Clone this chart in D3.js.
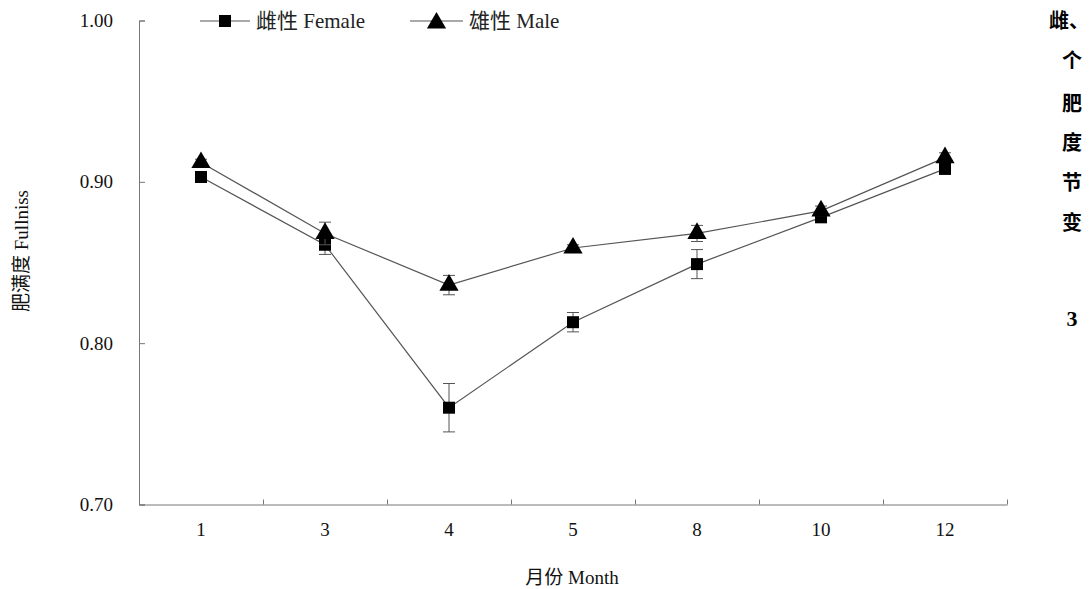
<!DOCTYPE html>
<html><head><meta charset="utf-8">
<script src="https://cdn.jsdelivr.net/npm/d3@7"></script>
<style>body{margin:0;background:#fff}svg{display:block}</style>
</head><body>
<svg id="c" width="1089" height="589"></svg>
<script>
const months = ["1","3","4","5","8","10","12"];
const female = [0.903, 0.861, 0.760, 0.813, 0.849, 0.878, 0.908];
const femaleErr = [0.003, 0.006, 0.015, 0.006, 0.009, 0.003, 0.003];
const male = [0.912, 0.868, 0.836, 0.859, 0.868, 0.882, 0.915];
const maleErr = [0.002, 0.007, 0.006, 0.002, 0.005, 0.003, 0.003];
const yTicks = [0.70, 0.80, 0.90, 1.00];
const seriesNames = ["雌性 Female", "雄性 Male"];
const sideText = ["雌、", "个", "肥", "度", "节", "变"];

const svg = d3.select("#c");
const fontLatin = "'Liberation Serif','Noto Sans CJK SC',serif";
const L = 139, R = 1007, T = 20.5, B = 504.5;
const x = d3.scaleBand().domain(months).range([L, R]);
const xb = d3.scaleLinear().domain([0, months.length]).range([L, R]);
const y = d3.scaleLinear().domain([0.7, 1.0]).range([B, T]);
const axisColor = "#777", lineColor = "#555";

// y axis
const ya = svg.append("g").attr("transform", `translate(${L},0)`)
  .call(d3.axisLeft(y).tickValues(yTicks).tickFormat(d3.format(".2f")).tickSize(-6).tickPadding(26));
ya.select(".domain").attr("stroke", axisColor);
ya.selectAll(".tick line").attr("stroke", axisColor);
ya.selectAll("text").attr("font-family", fontLatin).attr("font-size", 19).attr("fill", "#111");

// x axis labels
const xa = svg.append("g").attr("transform", `translate(0,${B})`)
  .call(d3.axisBottom(x).tickSize(0).tickPadding(18));
xa.select(".domain").attr("stroke", axisColor);
xa.selectAll("text").attr("font-family", fontLatin).attr("font-size", 19).attr("fill", "#111");
// x boundary ticks
const xt = svg.append("g").attr("transform", `translate(0,${B})`)
  .call(d3.axisBottom(xb).tickValues(d3.range(1, months.length + 1)).tickSize(-5).tickFormat(""));
xt.select(".domain").remove();
xt.selectAll(".tick line").attr("stroke", axisColor);

// titles
svg.append("text").attr("x", 572).attr("y", 584).attr("text-anchor", "middle")
  .attr("font-family", fontLatin).attr("font-size", 19).attr("fill", "#111").text("月份 Month");
svg.append("text").attr("transform", "translate(28,251) rotate(-90)").attr("text-anchor", "middle")
  .attr("font-family", fontLatin).attr("font-size", 19).attr("fill", "#111").text("肥满度 Fullniss");

const cx = d => x(d) + x.bandwidth() / 2;
const line = d3.line().x((d, i) => cx(months[i])).y(d => y(d));
const sq = d3.symbol().type(d3.symbolSquare).size(144);
const tri = d3.symbol().type(d3.symbolTriangle).size(160);

function drawSeries(vals, errs, sym) {
  const g = svg.append("g");
  g.append("path").datum(vals).attr("d", line).attr("fill", "none").attr("stroke", lineColor).attr("stroke-width", 1.2);
  vals.forEach((v, i) => {
    const px = cx(months[i]);
    const y1 = y(v + errs[i]), y2 = y(v - errs[i]);
    g.append("line").attr("x1", px).attr("x2", px).attr("y1", y1).attr("y2", y2).attr("stroke", lineColor);
    [y1, y2].forEach(yy => g.append("line").attr("x1", px - 6).attr("x2", px + 6).attr("y1", yy).attr("y2", yy).attr("stroke", lineColor));
    g.append("path").attr("d", sym).attr("transform", `translate(${px},${y(v)})`).attr("fill", "#000");
  });
}
drawSeries(female, femaleErr, sq);
drawSeries(male, maleErr, tri);

// legend
const lg = svg.append("g");
[[200, 250, sq], [410, 463, tri]].forEach((p, i) => {
  lg.append("line").attr("x1", p[0]).attr("x2", p[1]).attr("y1", 21).attr("y2", 21).attr("stroke", lineColor).attr("stroke-width", 1.2);
  lg.append("path").attr("d", p[2]).attr("transform", `translate(${(p[0] + p[1]) / 2},${i ? 23 : 21})`).attr("fill", "#000");
  lg.append("text").attr("x", p[1] + 6).attr("y", 28).attr("font-family", fontLatin).attr("font-size", 21).attr("fill", "#222").text(seriesNames[i]);
});

// side text fragments
const sideY = [28, 68, 111, 150, 190, 230];
sideText.forEach((t, i) => {
  svg.append("text").attr("x", i === 0 ? 1049 : 1062).attr("y", sideY[i]).attr("font-family", "'Noto Sans CJK SC',sans-serif")
    .attr("font-weight", "bold").attr("font-size", 20).attr("fill", "#000").text(t);
});
svg.append("text").attr("x", 1072).attr("y", 326).attr("text-anchor", "middle").attr("font-family", fontLatin)
  .attr("font-weight", "bold").attr("font-size", 22).attr("fill", "#000").text("3");
</script>
</body></html>
